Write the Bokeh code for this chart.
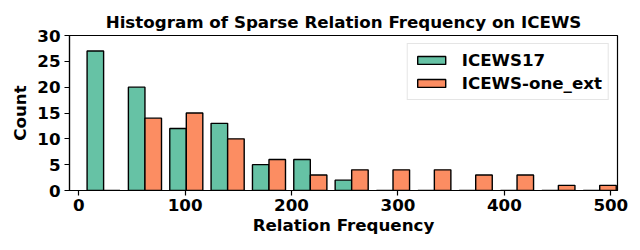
from bokeh.plotting import figure
from bokeh.models import Range1d, FixedTicker, Legend, LegendItem, ColumnDataSource
from bokeh.embed import file_html
from bokeh.resources import INLINE

# ---- data ----
bin_edges = [4.0, 42.8, 81.7, 120.5, 159.4, 198.2, 237.1, 275.9, 314.8, 353.6, 392.5, 431.3, 470.2, 509.0]
icews17_counts = [27, 20, 12, 13, 5, 6, 2, 0, 0, 0, 0, 0, 0]
icews_one_ext_counts = [0, 14, 15, 10, 6, 3, 4, 4, 4, 3, 3, 1, 1]
series_names = ["ICEWS17", "ICEWS-one_ext"]
series_counts = [icews17_counts, icews_one_ext_counts]
series_colors = ["#66c2a5", "#fc8d62"]
x_ticks = [0, 100, 200, 300, 400, 500]
y_ticks = [0, 5, 10, 15, 20, 25, 30]

FONT = "DejaVu Sans"
FS = "16.7px"

p = figure(width=640, height=250, output_backend="svg", toolbar_location=None,
           x_range=Range1d(-8.65, 506.3), y_range=Range1d(0, 30),
           min_border_left=69, min_border_right=23, min_border_top=35, min_border_bottom=60,
           title="Histogram of Sparse Relation Frequency on ICEWS")

items = []
for i, (name, counts, color) in enumerate(zip(series_names, series_counts, series_colors)):
    lefts, rights = [], []
    for k in range(len(counts)):
        w = bin_edges[k + 1] - bin_edges[k]
        l = bin_edges[k] + w * (0.1 + 0.4 * i)
        lefts.append(l)
        rights.append(l + 0.4 * w)
    src = ColumnDataSource(dict(left=lefts, right=rights, top=counts, bottom=[0] * len(counts)))
    r = p.quad(left="left", right="right", top="top", bottom="bottom", source=src,
               fill_color=color, line_color="black", line_width=1.4)
    items.append(LegendItem(label=name, renderers=[r]))

legend = Legend(items=items, location="top_right")
legend.label_text_font = FONT
legend.label_text_font_style = "bold"
legend.label_text_font_size = FS
legend.label_text_color = "black"
legend.glyph_width = 35
legend.glyph_height = 10
legend.label_standoff = 13
legend.label_height = 20
legend.spacing = 3
legend.padding = 6
legend.margin = 8
legend.border_line_color = "#cccccc"
legend.border_line_width = 1
legend.background_fill_alpha = 0.8
p.add_layout(legend)

p.title.text_font = FONT
p.title.text_font_style = "bold"
p.title.text_font_size = FS
p.title.text_color = "black"
p.title.align = "center"
p.title.standoff = 7

p.xgrid.visible = False
p.ygrid.visible = False
p.outline_line_color = "black"
p.outline_line_width = 1.2
p.outline_line_alpha = 1

p.xaxis.axis_label = "Relation Frequency"
p.yaxis.axis_label = "Count"
p.xaxis.ticker = FixedTicker(ticks=x_ticks)
p.yaxis.ticker = FixedTicker(ticks=y_ticks)
for ax in (p.xaxis, p.yaxis):
    ax.axis_label_text_font = FONT
    ax.axis_label_text_font_style = "bold"
    ax.axis_label_text_font_size = FS
    ax.major_label_text_font = FONT
    ax.major_label_text_font_style = "bold"
    ax.major_label_text_font_size = FS
    ax.major_label_text_color = "black"
    ax.axis_label_text_color = "black"
    ax.axis_line_color = "black"
    ax.axis_line_width = 1.2
    ax.major_tick_line_color = "black"
    ax.major_tick_line_width = 1.2
    ax.major_tick_out = 5
    ax.major_tick_in = 0
    ax.minor_tick_line_color = None
    ax.major_label_standoff = 4
p.xaxis.major_label_standoff = 3
p.xaxis.axis_label_standoff = 1
p.yaxis.axis_label_standoff = 4

open("out.html", "w").write(file_html(p, INLINE))
